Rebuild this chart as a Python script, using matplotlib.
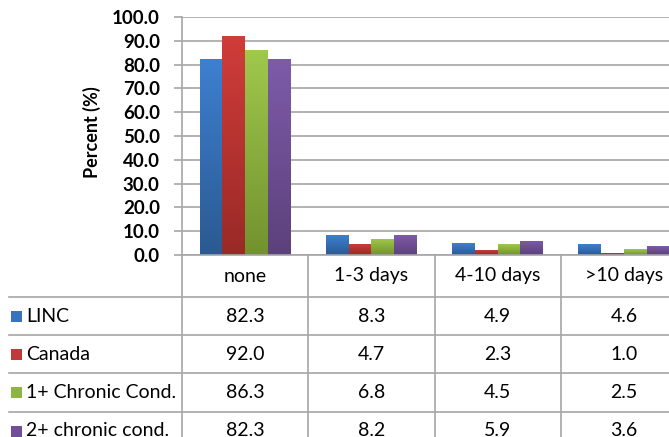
import numpy as np
import matplotlib
matplotlib.use("Agg")
import matplotlib.pyplot as plt
from matplotlib.colors import LinearSegmentedColormap
from matplotlib.patches import Rectangle
from matplotlib.lines import Line2D
from matplotlib.transforms import blended_transform_factory

# ---------------- data ----------------
categories = ["none", "1-3 days", "4-10 days", ">10 days"]
series_names = ["LINC", "Canada", "1+ Chronic Cond.", "2+ chronic cond."]
linc = [82.3, 8.3, 4.9, 4.6]
canada = [92.0, 4.7, 2.3, 1.0]
chronic1 = [86.3, 6.8, 4.5, 2.5]
chronic2 = [82.3, 8.2, 5.9, 3.6]
series_values = [linc, canada, chronic1, chronic2]
y_ticks = [0, 10, 20, 30, 40, 50, 60, 70, 80, 90, 100]

# ---------------- style ----------------
top_colors = ["#3d7fd0", "#d03c3a", "#a0c84c", "#7d5ba9"]
bot_colors = ["#2b5a92", "#9a2a27", "#72922f", "#5c417b"]
legend_colors = ["#3a72bd", "#c0393a", "#8db543", "#6e4f98"]
grid_c = "#a6a6a6"
FONT = "Lato"
TFS = 14

W, H = 669, 437
fig = plt.figure(figsize=(W / 100, H / 100), dpi=100)
fig.patch.set_facecolor("white")


def fx(px):
    return px / W


def fy(py):
    return 1 - py / H


ax = fig.add_axes([fx(182), fy(255), (687 - 182) / W, (255 - 17) / H])
ax.set_facecolor("white")

n = len(series_values)
bw = 0.18
x = np.arange(len(categories))
for i, vals in enumerate(series_values):
    cmap = LinearSegmentedColormap.from_list("g%d" % i, [bot_colors[i], top_colors[i]])
    bars = ax.bar(x + (i - (n - 1) / 2) * bw, vals, bw, color=legend_colors[i],
                  zorder=2, linewidth=0)
    for b in bars:
        x0, w, h = b.get_x(), b.get_width(), b.get_height()
        grad = np.linspace(0, 1, 64).reshape(-1, 1)
        im = ax.imshow(grad, extent=[x0, x0 + w, 0, h], origin="lower", aspect="auto",
                       cmap=cmap, zorder=2.1)
        im.set_clip_path(b)

ax.set_xlim(-0.5, len(categories) - 0.5)
ax.set_ylim(0, 100)
ax.set_xticks([])
ax.set_yticks(y_ticks)
ax.set_yticklabels([f"{v:.1f}" for v in y_ticks], fontfamily=FONT, fontweight="bold",
                   fontsize=13.5)
ax.yaxis.grid(True, color=grid_c, linewidth=1.2, zorder=0)
ax.set_axisbelow(True)
ax.tick_params(axis="y", length=6, width=1.2, color=grid_c, pad=10)
for s in ["top", "right"]:
    ax.spines[s].set_visible(False)
for s in ["left", "bottom"]:
    ax.spines[s].set_color(grid_c)
    ax.spines[s].set_linewidth(1.2)

fig.text(fx(92), fy(132), "Percent (%)", rotation=90, ha="center", va="center",
         fontfamily=FONT, fontweight="bold", fontsize=13)

# ---------------- data table ----------------
bt = blended_transform_factory(ax.transData, fig.transFigure)
row_lines = [297, 335, 373, 412]
row_centers = [316, 354, 392.5, 431]
for k in range(len(categories) + 1):
    fig.add_artist(Line2D([k - 0.5, k - 0.5], [fy(255), 0], transform=bt,
                          color=grid_c, linewidth=1.2))
for ry in row_lines:
    fig.add_artist(Line2D([fx(9), 1.05], [fy(ry), fy(ry)], transform=fig.transFigure,
                          color=grid_c, linewidth=1.2))
for j, c in enumerate(categories):
    fig.text(j, fy(276), c, transform=bt, ha="center", va="center",
             fontfamily=FONT, fontsize=TFS)
for i, (name, vals) in enumerate(zip(series_names, series_values)):
    cy = row_centers[i]
    fig.add_artist(Rectangle((fx(11), fy(cy + 5.5)), 11 / W, 11 / H,
                             transform=fig.transFigure, facecolor=legend_colors[i],
                             edgecolor="none"))
    fig.text(fx(26), fy(cy), name, ha="left", va="center", fontfamily=FONT, fontsize=TFS)
    for j, v in enumerate(vals):
        fig.text(j, fy(cy), f"{v:.1f}", transform=bt, ha="center", va="center",
                 fontfamily=FONT, fontsize=TFS)

fig.savefig("out.png", dpi=100)
